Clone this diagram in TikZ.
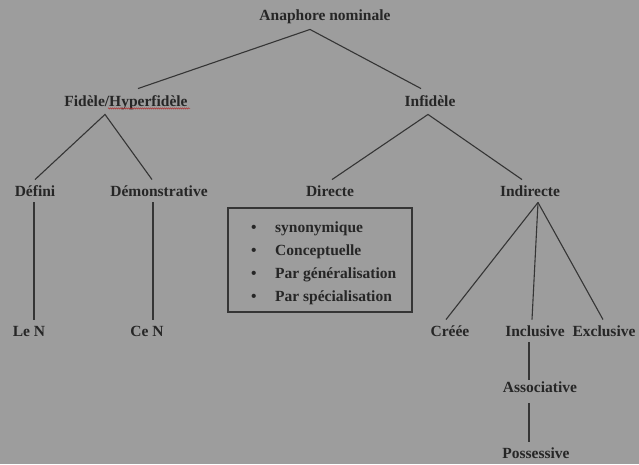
\documentclass[tikz,border=0pt]{standalone}
\usepackage{fontspec}
\setmainfont{Liberation Serif}
\usepackage{xcolor}
\usepackage{tikz}
\usetikzlibrary{positioning,decorations.pathmorphing}
\definecolor{bggrey}{HTML}{9D9D9D}
\definecolor{inkdark}{HTML}{262626}
\definecolor{linedark}{HTML}{353535}
\definecolor{spellred}{HTML}{B03030}
\tikzset{
  every node/.style={font=\fontsize{15.5}{18}\selectfont\bfseries, text=inkdark},
  term/.style={
    inner sep=2pt, text height=11pt, text depth=3.5pt
  },
  branch/.style={draw=linedark, line width=1.1pt},
  listbox/.style={
    rectangle, draw=linedark, line width=1.1pt,
    minimum width=184pt, minimum height=104pt
  },
  item/.style={anchor=base west, inner sep=0pt},
}

\begin{document}
\begin{tikzpicture}[x=1pt,y=-1pt]
  \fill[bggrey] (0,0) rectangle (639,464);
  \useasboundingbox (0,0) rectangle (639,464);

  \node[term] (ana) at (325,17) {Anaphore nominale};
  \node[term] (fid) at (126,103) {Fidèle/Hyperfidèle};
  \node[term] (inf) at (430,103) {Infidèle};
  \node[term] (def) at (35,193) {Défini};
  \node[term] (dem) at (159,193) {Démonstrative};
  \node[term] (dir) at (330,193) {Directe};
  \node[term] (ind) at (530,193) {Indirecte};
  \node[term] (len) at (29,333) {Le N};
  \node[term] (cen) at (147,333) {Ce N};
  \node[term] (cree) at (450,333) {Créée};
  \node[term] (incl) at (535,333) {Inclusive};
  \node[term] (excl) at (604,333) {Exclusive};
  \node[term] (asso) at (540,389) {Associative};
  \node[term] (poss) at (536,455) {Possessive};

  \node[listbox] (liste) at (320,260) {};
  \foreach \txt [count=\i from 0] in {synonymique, Conceptuelle, Par généralisation, Par spécialisation} {
    \node[item] (puce\i) at (251,232+23.3*\i) {\textbullet};
    \node[item] (sens\i) at (275,232+23.3*\i) {\txt};
  }

  \draw[spellred, line width=0.5pt, decorate, decoration={snake, amplitude=0.6pt, segment length=2pt}]
    ([xshift=-18pt,yshift=4pt]fid.south) -- ([xshift=64pt,yshift=4pt]fid.south);

  \draw[branch] ([xshift=12pt,yshift=5pt]fid.north) -- ([xshift=-15pt,yshift=-3pt]ana.south) -- ([xshift=-9pt,yshift=5pt]inf.north);
  \draw[branch] ([yshift=4pt]def.north) -- ([xshift=-21pt,yshift=-2pt]fid.south) -- ([xshift=-7pt,yshift=4pt]dem.north);
  \draw[branch] ([xshift=2pt,yshift=4pt]dir.north) -- ([xshift=-2pt,yshift=-2pt]inf.south) -- ([xshift=-8pt,yshift=4pt]ind.north);
  \draw[branch] ([xshift=-1pt]def.south) -- ([xshift=5pt,yshift=4pt]len.north);
  \draw[branch] ([xshift=-6pt]dem.south) -- ([xshift=6pt,yshift=4pt]cen.north);
  \draw[branch] ([xshift=8pt]ind.south) -- ([xshift=-4pt,yshift=4pt]cree.north);
  \draw[branch] ([xshift=8pt]ind.south) -- ([xshift=-3pt,yshift=4pt]incl.north);
  \draw[branch] ([xshift=8pt]ind.south) -- ([xshift=-1pt,yshift=4pt]excl.north);
  \draw[branch] ([xshift=-6pt]incl.south) -- ([xshift=-11pt]asso.north);
  \draw[branch] ([xshift=-11pt,yshift=-5pt]asso.south) -- ([xshift=-7pt,yshift=4pt]poss.north);
\end{tikzpicture}
\end{document}
